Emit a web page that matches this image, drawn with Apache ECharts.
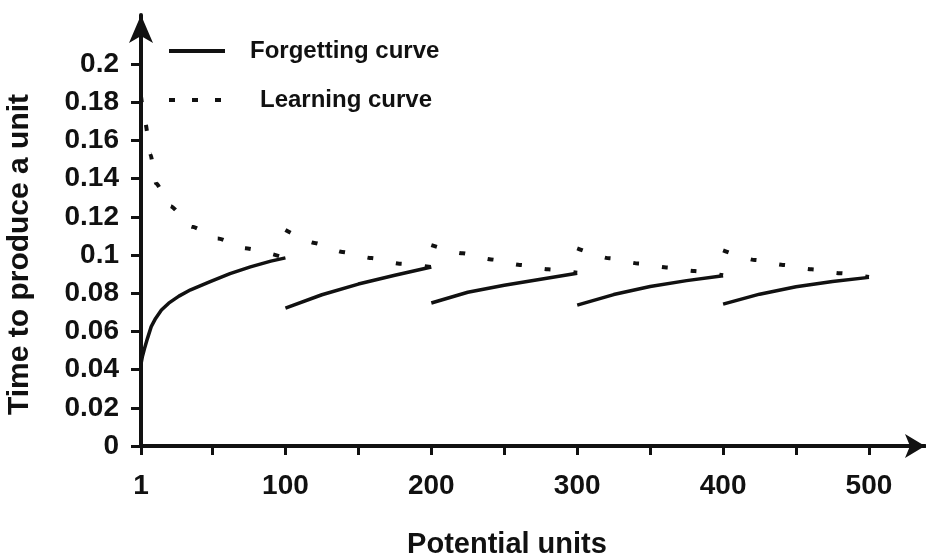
<!DOCTYPE html>
<html>
<head>
<meta charset="utf-8">
<title>Forgetting and learning curves</title>
<script src="https://cdn.jsdelivr.net/npm/echarts@6/dist/echarts.min.js"></script>
<style>
  html, body { margin: 0; padding: 0; background: #fff; }
  #chart { width: 926px; height: 554px; }
</style>
</head>
<body>
<div id="chart"></div>
<script>
// [potential units, time to produce a unit]
const forgetSeg1 = [[1, 0.043], [2, 0.047], [3.4, 0.051], [5.5, 0.0565], [8, 0.0625], [11, 0.0668], [15, 0.0712], [20, 0.0748], [27, 0.0785], [35, 0.0818], [48, 0.086], [62, 0.0903], [76, 0.0938], [90, 0.0968], [100, 0.0985]]
const forgetSeg2 = [[100, 0.0722], [125, 0.0792], [150, 0.0848], [175, 0.0894], [200, 0.0937]]
const forgetSeg3 = [[200, 0.0749], [225, 0.0805], [250, 0.0842], [275, 0.0873], [300, 0.0905]]
const forgetSeg4 = [[300, 0.0738], [325, 0.0793], [350, 0.0835], [375, 0.0866], [400, 0.0892]]
const forgetSeg5 = [[400, 0.0743], [425, 0.0795], [450, 0.0834], [475, 0.0861], [500, 0.0883]]

const learnSeg1 = [[1, 0.183], [4, 0.169], [7.5, 0.1527], [11.4, 0.1375], [21, 0.1257], [36, 0.1148], [53.7, 0.1087], [72.7, 0.1035], [100, 0.0985]]
const learnSeg2 = [[100, 0.1131], [120, 0.1063], [139, 0.1016], [159, 0.0984], [178, 0.0955], [200, 0.0937]]
const learnSeg3 = [[200, 0.1052], [221.5, 0.1009], [241, 0.0977], [260.6, 0.0948], [280, 0.0925], [300, 0.0907]]
const learnSeg4 = [[300, 0.1035], [322, 0.0983], [341.7, 0.0956], [361, 0.0935], [380.6, 0.0916], [400, 0.0894]]
const learnSeg5 = [[400, 0.1025], [421.8, 0.0974], [441, 0.0948], [460.7, 0.0925], [480, 0.0905], [500, 0.0885]]

const xLabelValues = [1, 100, 200, 300, 400, 500]
const xTickValues = [1, 50, 100, 150, 200, 250, 300, 350, 400, 450, 500]
const yTickValues = [0, 0.02, 0.04, 0.06, 0.08, 0.1, 0.12, 0.14, 0.16, 0.18, 0.2]

const FORGET = 'Forgetting curve'
const LEARN = 'Learning curve'
const font = "'Liberation Sans', Arial, sans-serif"
const ink = '#111'

const chart = echarts.init(document.getElementById('chart'), null, { renderer: 'canvas' })

const forgetSeries = [forgetSeg1, forgetSeg2, forgetSeg3, forgetSeg4, forgetSeg5].map(seg => ({
  name: FORGET,
  type: 'line',
  data: seg,
  symbol: 'none',
  smooth: false,
  lineStyle: { color: ink, width: 3.5, type: 'solid', join: 'round' },
  itemStyle: { color: ink }
}))

const learnSeries = [learnSeg1, learnSeg2, learnSeg3, learnSeg4, learnSeg5].map(seg => ({
  name: LEARN,
  type: 'line',
  data: seg,
  symbol: 'none',
  smooth: 0.2,
  smoothMonotone: 'x',
  lineStyle: { color: ink, width: 4, type: [6, 23], cap: 'butt' },
  itemStyle: { color: ink }
}))

const legendText = { fontFamily: font, fontSize: 24, fontWeight: 'bold', color: ink }

const option = {
  animation: false,
  backgroundColor: '#fff',
  grid: { left: 141, right: 1, top: 15, bottom: 108, outerBoundsMode: 'none' },
  legend: [
    {
      data: [FORGET],
      left: 167,
      top: 39,
      padding: 0,
      itemWidth: 56,
      itemHeight: 12,
      itemStyle: { opacity: 0 },
      lineStyle: { color: ink, width: 4 },
      textStyle: Object.assign({ padding: [0, 0, 0, 20] }, legendText)
    },
    {
      data: [LEARN],
      left: 167,
      top: 88,
      padding: 0,
      itemWidth: 56,
      itemHeight: 12,
      itemStyle: { opacity: 0 },
      lineStyle: { color: ink, width: 4, type: [6, 17] },
      textStyle: Object.assign({ padding: [0, 0, 0, 30] }, legendText)
    }
  ],
  xAxis: {
    type: 'value',
    min: 1,
    max: 538.4,
    name: 'Potential units',
    nameLocation: 'middle',
    nameGap: 84,
    nameTextStyle: { fontFamily: font, fontSize: 29, fontWeight: 'bold', color: ink, padding: [0, 52, 0, 0] },
    splitLine: { show: false },
    axisLine: { lineStyle: { color: ink, width: 4 }, symbol: ['none', 'arrow'], symbolSize: [18, 20] },
    axisTick: { customValues: xTickValues, length: 9, lineStyle: { color: ink, width: 3 } },
    axisLabel: { customValues: xLabelValues, margin: 26, fontFamily: font, fontSize: 28, fontWeight: 'bold', color: ink }
  },
  yAxis: {
    type: 'value',
    min: 0,
    max: 0.2257,
    name: 'Time to produce a unit',
    nameLocation: 'middle',
    nameGap: 106,
    nameTextStyle: { fontFamily: font, fontSize: 30, fontWeight: 'bold', color: ink, padding: [0, 48, 0, 0] },
    splitLine: { show: false },
    axisLine: { show: true, lineStyle: { color: ink, width: 4 }, symbol: ['none', 'arrow'], symbolSize: [18, 28] },
    axisTick: { show: true, customValues: yTickValues, length: 10, lineStyle: { color: ink, width: 3 } },
    axisLabel: { customValues: yTickValues, margin: 22, fontFamily: font, fontSize: 28, fontWeight: 'bold', color: ink }
  },
  series: forgetSeries.concat(learnSeries)
}

chart.setOption(option)
</script>
</body>
</html>
